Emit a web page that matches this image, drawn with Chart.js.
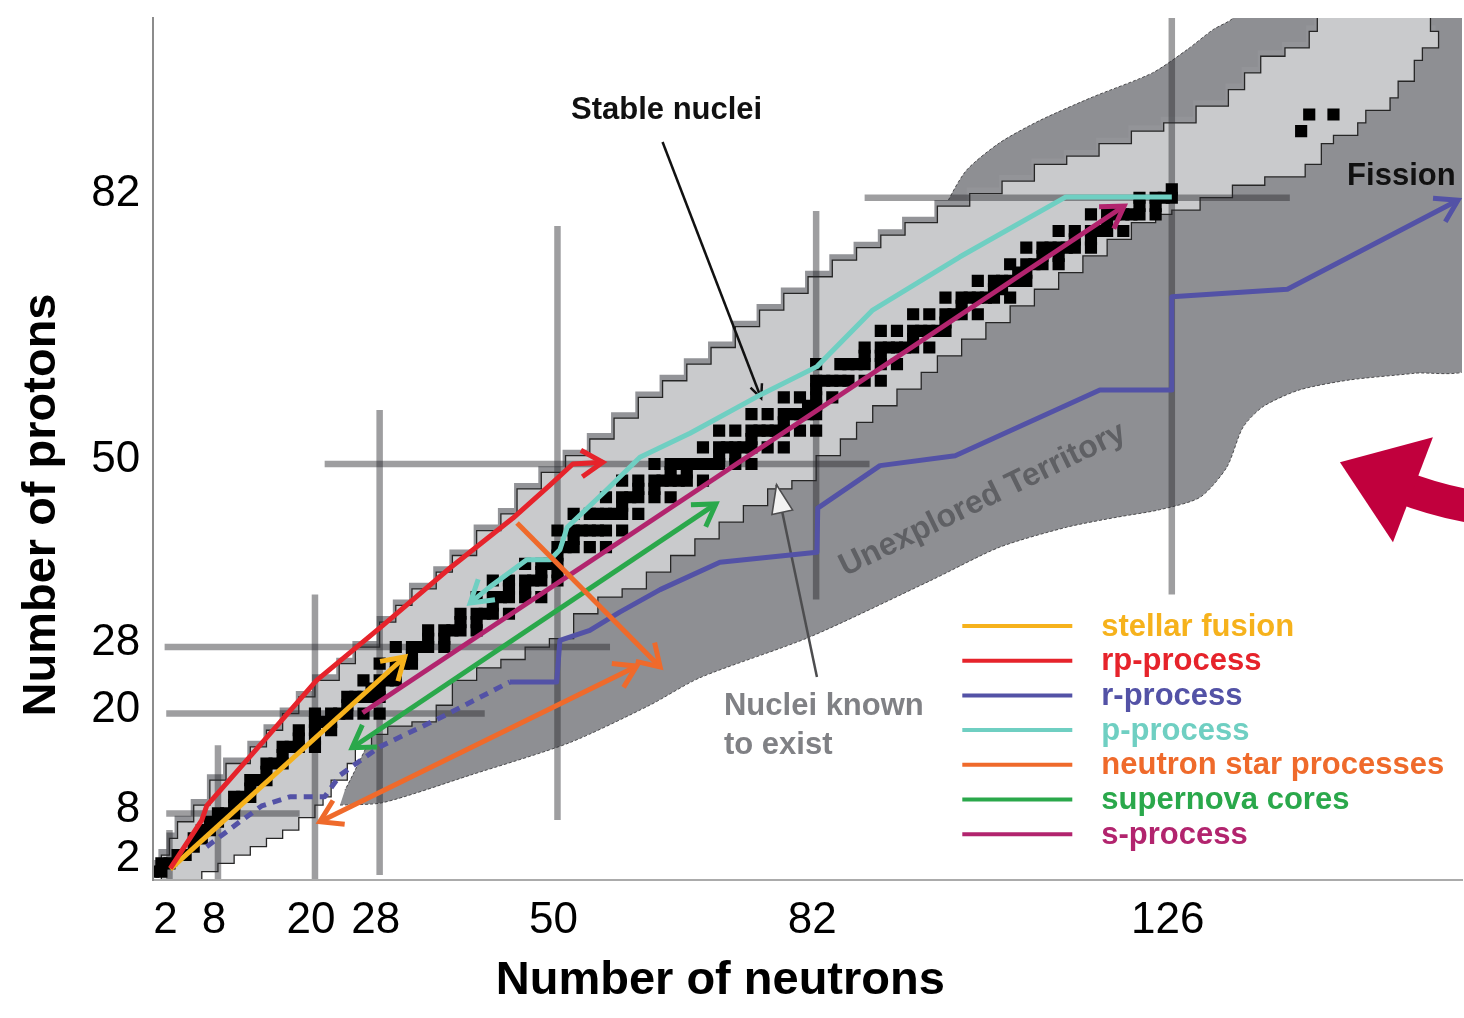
<!DOCTYPE html>
<html>
<head>
<meta charset="utf-8">
<title>Chart of nuclides – nucleosynthesis processes</title>
<script src="https://cdn.jsdelivr.net/npm/chart.js@4.4.1/dist/chart.umd.min.js"></script>
<style>
  html, body { margin: 0; padding: 0; background: #ffffff; }
  canvas { display: block; }
</style>
</head>
<body>
<canvas id="nuclideChart" width="1464" height="1018"></canvas>
<script>
// ---------- Axis ticks: the magic numbers ----------
const neutronTicks = [2, 8, 20, 28, 50, 82, 126];
const protonTicks = [2, 8, 20, 28, 50, 82];

// Shell-closure bars: span of each bar along the other axis
const neutronBarFromZ = [0, 0, 0, 0.6, 7.2, 33.7, 34.3];
const neutronBarToZ = [6, 16.2, 34.3, 56.5, 78.6, 80.4, 104];
const protonBarFromN = [0, 1.6, 1.6, 1.4, 21.2, 88];
const protonBarToN = [3, 18.1, 41, 56.5, 88.6, 140.6];

// Stable and very long-lived nuclei, [N, Z]
const stableNuclei = [
  [0,1],[1,1],[1,2],[2,2],[3,3],[4,3],[5,4],[5,5],[6,5],[6,6],[7,6],[7,7],[8,7],
  [8,8],[9,8],[10,8],[10,9],[10,10],[11,10],[12,10],[12,11],[12,12],[13,12],[14,12],
  [14,13],[14,14],[15,14],[16,14],[16,15],[16,16],[17,16],[18,16],[20,16],[18,17],[20,17],
  [18,18],[20,18],[22,18],[20,19],[21,19],[22,19],[20,20],[22,20],[23,20],[24,20],[26,20],[28,20],
  [24,21],[24,22],[25,22],[26,22],[27,22],[28,22],[27,23],[28,23],[26,24],[28,24],[29,24],[30,24],
  [30,25],[28,26],[30,26],[31,26],[32,26],[32,27],[30,28],[32,28],[33,28],[34,28],[36,28],
  [34,29],[36,29],[34,30],[36,30],[37,30],[38,30],[40,30],[38,31],[40,31],
  [38,32],[40,32],[41,32],[42,32],[44,32],[42,33],[40,34],[42,34],[43,34],[44,34],[46,34],[48,34],
  [44,35],[46,35],[42,36],[44,36],[46,36],[47,36],[48,36],[50,36],[48,37],[50,37],
  [46,38],[48,38],[49,38],[50,38],[50,39],[50,40],[51,40],[52,40],[54,40],[56,40],[52,41],
  [50,42],[52,42],[53,42],[54,42],[55,42],[56,42],[58,42],
  [52,44],[54,44],[55,44],[56,44],[57,44],[58,44],[60,44],[58,45],
  [56,46],[58,46],[59,46],[60,46],[62,46],[64,46],[60,47],[62,47],
  [58,48],[60,48],[62,48],[63,48],[64,48],[65,48],[66,48],[68,48],[64,49],[66,49],
  [62,50],[64,50],[65,50],[66,50],[67,50],[68,50],[69,50],[70,50],[72,50],[74,50],[70,51],[72,51],
  [68,52],[70,52],[71,52],[72,52],[73,52],[74,52],[76,52],[78,52],[74,53],
  [70,54],[72,54],[74,54],[75,54],[76,54],[77,54],[78,54],[80,54],[82,54],[78,55],
  [74,56],[76,56],[78,56],[79,56],[80,56],[81,56],[82,56],[81,57],[82,57],
  [78,58],[80,58],[82,58],[84,58],[82,59],[82,60],[83,60],[84,60],[85,60],[86,60],[88,60],[90,60],
  [82,62],[85,62],[86,62],[87,62],[88,62],[90,62],[92,62],[88,63],[90,63],
  [88,64],[90,64],[91,64],[92,64],[93,64],[94,64],[96,64],[94,65],
  [90,66],[92,66],[94,66],[95,66],[96,66],[97,66],[98,66],[98,67],
  [94,68],[96,68],[98,68],[99,68],[100,68],[102,68],[100,69],
  [98,70],[100,70],[101,70],[102,70],[103,70],[104,70],[106,70],[104,71],[105,71],
  [102,72],[104,72],[105,72],[106,72],[107,72],[108,72],[107,73],[108,73],
  [106,74],[108,74],[109,74],[110,74],[112,74],[110,75],[112,75],
  [108,76],[110,76],[111,76],[112,76],[113,76],[114,76],[116,76],[114,77],[116,77],
  [112,78],[114,78],[116,78],[117,78],[118,78],[120,78],[118,79],
  [116,80],[118,80],[119,80],[120,80],[121,80],[122,80],[124,80],[122,81],[124,81],
  [122,82],[124,82],[125,82],[126,82],[126,83],
  [142,90],[143,92],[146,92]
];

// Nuclei known to exist: staircase corners [N, Z], clockwise from the origin
const knownNucleiOutline = [
  [1,0],[1,3],[2,5],[3,7],[5,9],[7,12],[9,14],[12,16],[14,18],[16,20],[18,22],[20,24],
  [23,26],[25,28],[28,31],[30,33],[32,35],[35,37],[37,39],[40,42],[43,44],[45,47],[48,49],
  [51,51],[54,53],[57,55.5],[60,58],[63,60],[66,62],[69,64],[72,66.5],[75,68.5],[78,70.5],
  [81,72.5],[84,74.5],[87,76],[90,77.5],[93,79],[97,81],[101,82.5],[105,84],[109,86],
  [113,87],[117,88.5],[121,90],[125,91],[129,93],[133,95],[135,97],[137,99],[140,100],
  [143,102],[144,104],
  [158,102],[159,100],[157,98.5],[156,96],[154,94],[153,92.5],[150,91],[149,89.5],
  [146,88.5],[144.5,86],[142.5,84.5],[137.5,83.5],[133.5,82],[129.5,80.5],
  [126,80],[124,79],[121,77],[118,75],[115,73],[112,71],[109,69],[106,67],[103,65],
  [100,63],[97,61],[95,59],[92,57],[89,55],[87,53],[85,51],[82,48],[79,47],[76,45],
  [73,43],[70,41],[67,39],[64,37],[61,35],[58,34],[55,32],[52,29],[49,28],[46,26.5],
  [43,25.5],[40,24],[37,21],[35,19],[32,18.5],[29,17.5],[27,16],[25,14],[24,12],[22,10],
  [21,9],[20,7.5],[18,6],[16,5],[14,4],[12,3],[10,2],[8,1],[6,0]
];

// Predicted but still unexplored territory, [N, Z]
const unexploredOutline = [
  [23.1,9.0],[28.4,9.3],[39.2,12.6],[51.5,16.5],[61.4,21.0],[67.6,24.3],[81.2,29.2],
  [96.4,36.1],[104.7,40.0],[113.0,42.4],[119.2,43.6],[124.5,44.5],[129.5,46.0],
  [132.8,49.6],[134.8,54.4],[137.3,56.9],[141.8,58.9],[148.0,60.1],[156,60.9],[163,61.8],
  [163,106],[135,106],[133.6,103.6],[131.1,102.2],[127.9,99.8],[123.6,97.0],[116.2,94.1],
  [109.7,91.3],[104.7,88.6],[100.6,85.3],[98.2,81.4],[92.4,69.7],[55.3,45.7],[30.5,22.8],
  [23.7,10.8]
];

// ---------- Nucleosynthesis processes ----------
const processNames = ['stellar fusion', 'rp-process', 'r-process', 'p-process',
  'neutron star processes', 'supernova cores', 's-process'];
const processColors = ['#f6b21c', '#e6232b', '#5352a6', '#6fcfc2', '#ef6a2b', '#2aa84b', '#b2246e'];

const stellarFusionPath = [[2.1,1.3],[31.1,26.8]];
const rpProcessPath = [[2.1,1.4],[6.0,7.2],[6.6,8.9],[13.2,16.2],[20.2,24.0],[28.4,30.6],
  [36.7,37.5],[44.5,43.5],[49.1,47.5],[51.9,50.0],[55.6,50.2]];
const rProcessSeedPath = [[6.6,4.0],[10.7,7.0],[13.4,8.9],[16.9,10.0],[21.2,10.0],[23.1,12.6],
  [28.0,16.0],[35.5,19.5],[44.1,23.8]];
const rProcessPath = [[44.1,23.8],[49.9,23.8],[50.3,28.8],[54.0,30.0],[57.7,32.2],[62.7,34.9],
  [70.1,38.2],[82.1,39.4],[82.2,44.7],[89.9,49.8],[99.2,51.0],[117.1,58.9],[126,58.9],
  [126,70.1],[140.3,71.0],[161.4,81.7]];
const pProcessPath = [[126,82.1],[112.9,82.1],[99.8,74.9],[89.0,68.5],[82.1,61.7],[74.7,58.1],
  [66.4,53.7],[60.2,50.8],[56.1,46.9],[51.2,42.4],[50.3,39.7],[49.1,38.5],[46.2,38.5],
  [41.6,35.2],[39.2,33.3]];
const neutronStarDecayPath = [[45.0,42.9],[62.7,25.6]];
const neutronStarMergerPath = [[59.8,25.7],[20.6,7.0]];
const supernovaCorePath = [[24.6,15.9],[69.6,45.2]];
const sProcessPath = [[25.9,20.1],[120.1,81.0]];

// Pointers from the annotations
const stablePointerPath = [[63.0,88.7],[75.2,57.9]];
const knownPointerPath = [[82.1,24.4],[77.1,47.5]];

// ---------- Build datasets (back to front) ----------
const FONT = "'Liberation Sans', Arial, Helvetica, sans-serif";
const toPoints = pairs => pairs.map(([n, z]) => ({ x: n, y: z }));

const datasets = [];
datasets.push({
  role: 'unexplored', data: toPoints(unexploredOutline), showLine: true, fill: 'shape',
  backgroundColor: '#8e8f93', borderColor: 'rgba(55,55,58,0.85)', borderWidth: 1,
  borderDash: [3, 2], tension: 0.25, pointRadius: 0
});
datasets.push({
  role: 'known', data: toPoints(knownNucleiOutline), showLine: true, fill: 'shape',
  stepped: true, backgroundColor: '#c9cacc', borderColor: '#262626', borderWidth: 1.3,
  pointRadius: 0
});
neutronTicks.forEach((n, i) => datasets.push({
  role: 'shell', data: [{ x: n, y: neutronBarFromZ[i] }, { x: n, y: neutronBarToZ[i] }],
  showLine: true, borderColor: 'rgba(40,40,44,0.45)', borderWidth: 6.5, pointRadius: 0
}));
protonTicks.forEach((z, i) => datasets.push({
  role: 'shell', data: [{ x: protonBarFromN[i], y: z }, { x: protonBarToN[i], y: z }],
  showLine: true, borderColor: 'rgba(40,40,44,0.45)', borderWidth: 6.5, pointRadius: 0
}));
datasets.push({
  role: 'stable', data: toPoints(stableNuclei), showLine: false, pointStyle: 'rect',
  pointRadius: 8.6, pointBackgroundColor: '#000000', pointBorderWidth: 0
});
datasets.push({
  role: 'pointer', data: toPoints(stablePointerPath), showLine: true, borderColor: '#111111',
  borderWidth: 2.5, pointRadius: 0, head: { end: true, length: 15, spread: 0.42 }
});
datasets.push({
  role: 'pointer', data: toPoints(knownPointerPath), showLine: true, borderColor: '#4d4d4f',
  borderWidth: 2.5, pointRadius: 0, head: { end: true, length: 30, spread: 0.36, hollow: true }
});

function processLine(path, colorIndex, head, dash) {
  return {
    role: 'process', data: toPoints(path), showLine: true, borderColor: processColors[colorIndex],
    borderWidth: 5, borderDash: dash || [], pointRadius: 0, borderCapStyle: 'butt',
    borderJoinStyle: 'round', head: head
  };
}
datasets.push(processLine(sProcessPath, 6, { end: true, length: 25, spread: 0.56 }));
datasets.push(processLine(supernovaCorePath, 5, { end: true, start: true, length: 25, spread: 0.56 }));
datasets.push(processLine(rProcessSeedPath, 2, null, [9, 7]));
datasets.push(processLine(rProcessPath, 2, { end: true, length: 25, spread: 0.56 }));
datasets.push(processLine(pProcessPath, 3, { end: true, length: 25, spread: 0.56 }));
datasets.push(processLine(stellarFusionPath, 0, { end: true, length: 25, spread: 0.56 }));
datasets.push(processLine(rpProcessPath, 1, { end: true, length: 25, spread: 0.56 }));
datasets.push(processLine(neutronStarDecayPath, 4, { end: true, length: 25, spread: 0.56 }));
datasets.push(processLine(neutronStarMergerPath, 4, { end: true, start: true, length: 25, spread: 0.56 }));

// earlier entries sit at the back
datasets.forEach((ds, i) => { ds.order = datasets.length - i; });

// ---------- Annotation layout ----------
const labelsConfig = {
  stable: { text: 'Stable nuclei', at: [63.5, 92.5] },
  fission: { text: 'Fission', at: [154.4, 84.5] },
  known: { lines: ['Nuclei known', 'to exist'], at: [70.6, 20.8], lineGap: 39 },
  unexplored: { text: 'Unexplored Territory', at: [102.6, 45.7], angle: -26 },
  bigArrowTip: [146.8, 50.2]
};

function drawHead(ctx, tip, back, spec, color, width) {
  const ang = Math.atan2(tip.y - back.y, tip.x - back.x);
  const p1 = { x: tip.x - spec.length * Math.cos(ang - spec.spread), y: tip.y - spec.length * Math.sin(ang - spec.spread) };
  const p2 = { x: tip.x - spec.length * Math.cos(ang + spec.spread), y: tip.y - spec.length * Math.sin(ang + spec.spread) };
  ctx.save();
  ctx.beginPath();
  ctx.moveTo(p1.x, p1.y);
  ctx.lineTo(tip.x, tip.y);
  ctx.lineTo(p2.x, p2.y);
  if (spec.hollow) {
    ctx.closePath();
    ctx.fillStyle = '#f2f2f2';
    ctx.fill();
    ctx.strokeStyle = color;
    ctx.lineWidth = 1.6;
    ctx.lineJoin = 'miter';
    ctx.stroke();
  } else {
    ctx.strokeStyle = color;
    ctx.lineWidth = width;
    ctx.lineJoin = 'miter';
    ctx.miterLimit = 6;
    ctx.lineCap = 'butt';
    ctx.stroke();
  }
  ctx.restore();
}

const nuclidePlugin = {
  id: 'nuclideDecorations',
  afterLayout(chart) {
    // let the plot run right up to the canvas edge
    const xs = chart.scales.x;
    const right = chart.width - 2;
    if (Math.abs(xs.right - right) > 0.5) {
      xs.right = right;
      xs.width = right - xs.left;
      xs.configure();
      chart.chartArea.right = right;
      chart.chartArea.width = right - chart.chartArea.left;
    }
  },
  afterDatasetDraw(chart, args) {
    const ds = chart.data.datasets[args.index];
    const ctx = chart.ctx;
    const area = chart.chartArea;
    if (ds.role === 'unexplored') {
      // shaded ledges along the proton-rich staircase
      const knownIndex = chart.data.datasets.findIndex(d => d.role === 'known');
      const line = chart.getDatasetMeta(knownIndex).dataset;
      if (line && line.points && line.points.length) {
        ctx.save();
        ctx.beginPath();
        ctx.rect(area.left, area.top, area.right - area.left, area.bottom - area.top);
        ctx.clip();
        ctx.translate(-3, -6);
        ctx.beginPath();
        line.path(ctx);
        ctx.closePath();
        ctx.fillStyle = '#939498';
        ctx.fill();
        ctx.restore();
      }
    }
    if (ds.head) {
      const pts = args.meta.data;
      const n = pts.length;
      if (n > 1) {
        ctx.save();
        ctx.beginPath();
        ctx.rect(area.left, area.top - 2, area.right - area.left + 2, area.bottom - area.top + 2);
        ctx.clip();
        if (ds.head.end) drawHead(ctx, pts[n - 1], pts[n - 2], ds.head, ds.borderColor, ds.borderWidth);
        if (ds.head.start) drawHead(ctx, pts[0], pts[1], ds.head, ds.borderColor, ds.borderWidth);
        ctx.restore();
      }
    }
  },
  afterDatasetsDraw(chart) {
    const ctx = chart.ctx;
    const xs = chart.scales.x, ys = chart.scales.y;
    const px = p => ({ x: xs.getPixelForValue(p[0]), y: ys.getPixelForValue(p[1]) });
    const area = chart.chartArea;

    ctx.save();
    ctx.textBaseline = 'middle';

    // Stable nuclei
    let p = px(labelsConfig.stable.at);
    ctx.font = `bold 31px ${FONT}`;
    ctx.fillStyle = '#111111';
    ctx.textAlign = 'center';
    ctx.fillText(labelsConfig.stable.text, p.x, p.y);

    // Fission
    p = px(labelsConfig.fission.at);
    ctx.fillText(labelsConfig.fission.text, p.x, p.y);

    // Nuclei known to exist
    p = px(labelsConfig.known.at);
    ctx.fillStyle = '#808185';
    ctx.textAlign = 'left';
    labelsConfig.known.lines.forEach((t, i) => ctx.fillText(t, p.x, p.y + i * labelsConfig.known.lineGap));

    // Unexplored Territory
    p = px(labelsConfig.unexplored.at);
    ctx.save();
    ctx.translate(p.x, p.y);
    ctx.rotate(labelsConfig.unexplored.angle * Math.PI / 180);
    ctx.font = `bold 32px ${FONT}`;
    ctx.fillStyle = '#5f6064';
    ctx.textAlign = 'center';
    ctx.fillText(labelsConfig.unexplored.text, 0, 0);
    ctx.restore();

    // Legend of processes
    const lx = area.left + 809;
    const ly = area.top + 608;
    const step = 34.7;
    ctx.font = `bold 31px ${FONT}`;
    ctx.textAlign = 'left';
    processNames.forEach((name, i) => {
      const y = ly + i * step;
      ctx.strokeStyle = processColors[i];
      ctx.lineWidth = 4;
      ctx.lineCap = 'butt';
      ctx.beginPath();
      ctx.moveTo(lx, y);
      ctx.lineTo(lx + 110, y);
      ctx.stroke();
      ctx.fillStyle = processColors[i];
      ctx.fillText(name, lx + 139, y + 1);
    });

    // Large pointer toward the neutron-rich frontier
    const t = px(labelsConfig.bigArrowTip);
    ctx.strokeStyle = '#c1003d';
    ctx.fillStyle = '#c1003d';
    ctx.lineWidth = 33;
    ctx.lineCap = 'butt';
    ctx.beginPath();
    ctx.moveTo(t.x + 60, t.y + 24);
    ctx.quadraticCurveTo(t.x + 95, t.y + 38, t.x + 140, t.y + 46);
    ctx.stroke();
    ctx.beginPath();
    ctx.moveTo(t.x, t.y);
    ctx.lineTo(t.x + 93, t.y - 25);
    ctx.lineTo(t.x + 53, t.y + 80);
    ctx.closePath();
    ctx.fill();

    ctx.restore();
  },
  afterDraw(chart) {
    const ctx = chart.ctx;
    const area = chart.chartArea;
    ctx.save();
    ctx.fillStyle = '#000000';
    ctx.font = `bold 47px ${FONT}`;
    ctx.textAlign = 'center';
    ctx.textBaseline = 'middle';
    ctx.fillText('Number of neutrons', area.left + 567, area.bottom + 101);
    ctx.translate(area.left - 111, area.top + 487);
    ctx.rotate(-Math.PI / 2);
    ctx.fillText('Number of protons', 0, 0);
    ctx.restore();
  }
};

new Chart(document.getElementById('nuclideChart'), {
  type: 'scatter',
  data: { datasets },
  options: {
    responsive: false,
    animation: false,
    devicePixelRatio: 1,
    events: [],
    layout: { padding: { top: 18, right: 2, left: 0, bottom: 0 } },
    plugins: { legend: { display: false }, tooltip: { enabled: false } },
    scales: {
      x: {
        type: 'linear', min: 0, max: 161.9,
        grid: { display: false, drawTicks: false },
        border: { display: true, color: '#ababab', width: 2, z: 2 },
        ticks: {
          color: '#000000', font: { family: FONT, size: 44 }, padding: 14, labelOffset: -4,
          autoSkip: false, maxRotation: 0, minRotation: 0, callback: v => String(v)
        },
        afterBuildTicks: scale => { scale.ticks = neutronTicks.map(v => ({ value: v })); },
        afterFit: scale => {
          scale.height = 138;
          scale.paddingLeft = 0; scale.paddingRight = 0;
          scale.paddingTop = 0; scale.paddingBottom = 0;
        }
      },
      y: {
        type: 'linear', min: 0, max: 103.6,
        grid: { display: false, drawTicks: false },
        border: { display: true, color: '#8c8c8c', width: 2, z: 2 },
        ticks: {
          color: '#000000', font: { family: FONT, size: 44 }, padding: 13, labelOffset: -4,
          autoSkip: false, callback: v => String(v)
        },
        afterBuildTicks: scale => { scale.ticks = protonTicks.map(v => ({ value: v })); },
        afterFit: scale => {
          scale.width = 153.3;
          scale.paddingLeft = 0; scale.paddingRight = 0;
          scale.paddingTop = 0; scale.paddingBottom = 0;
        }
      }
    }
  },
  plugins: [nuclidePlugin]
});
</script>
</body>
</html>
